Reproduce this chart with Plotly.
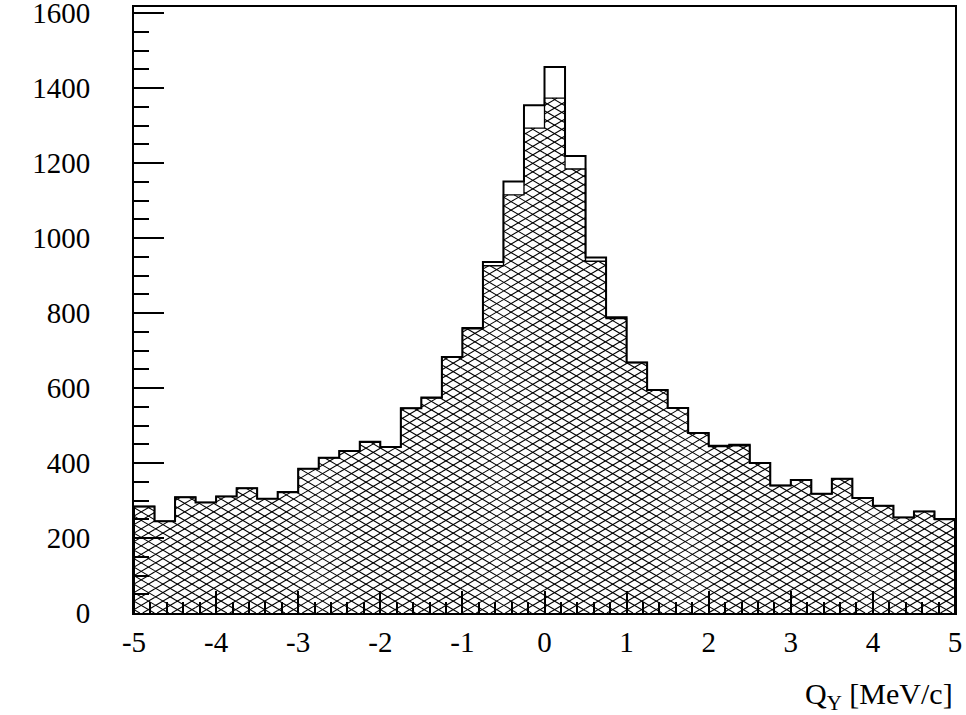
import numpy as np
import plotly.graph_objects as go

# ---- data ----
bin_edges_lo, bin_edges_hi, n_bins = -5.0, 5.0, 40
total_counts = [284, 245, 309, 295, 311, 333, 305, 323, 385, 414,
                432, 457, 443, 546, 575, 683, 760, 936, 1151, 1354,
                1456, 1219, 948, 789, 668, 595, 547, 480, 446, 449,
                400, 340, 355, 318, 358, 307, 286, 255, 271, 251]
hatched_counts = [284, 245, 309, 295, 311, 333, 305, 321, 385, 414,
                  432, 455, 443, 546, 573, 683, 758, 926, 1115, 1293,
                  1373, 1184, 938, 785, 668, 595, 547, 480, 444, 446,
                  400, 340, 355, 318, 358, 307, 286, 255, 271, 249]
x_tick_vals = [-5, -4, -3, -2, -1, 0, 1, 2, 3, 4, 5]
y_tick_vals = [0, 200, 400, 600, 800, 1000, 1200, 1400, 1600]
x_title = "Q<sub>Y</sub> [MeV/c]"

# ---- layout geometry ----
W_FIG, H_FIG = 966, 715
M_L, M_R, M_T, M_B = 134, 11, 7, 102
Y_MAX = 1616
X_RANGE = [bin_edges_lo, bin_edges_hi]
Y_RANGE = [0, Y_MAX]
PW = W_FIG - M_L - M_R
PH = H_FIG - M_T - M_B

edges = np.linspace(bin_edges_lo, bin_edges_hi, n_bins + 1)


def step_xy(vals):
    xs, ys = [edges[0]], [0]
    for i, v in enumerate(vals):
        xs += [edges[i], edges[i + 1]]
        ys += [v, v]
    xs.append(edges[-1])
    ys.append(0)
    return xs, ys


# hatch lines (cross-hatch) clipped to the hatched histogram region
sx = PW / (X_RANGE[1] - X_RANGE[0])   # px per x unit
sy = PH / (Y_RANGE[1] - Y_RANGE[0])   # px per y unit
slope = 0.586
spacing = 8.5
hx, hy = [], []
for s in (slope, -slope):
    cmin = -abs(s) * PW - spacing * 2
    cmax = PH + abs(s) * PW + spacing * 2
    for c in np.arange(cmin, cmax, spacing):
        for i, v in enumerate(hatched_counts):
            xa = (edges[i] - X_RANGE[0]) * sx
            xb = (edges[i + 1] - X_RANGE[0]) * sx
            hb = v * sy
            if s > 0:
                lo, hi = (0 - c) / s, (hb - c) / s
            else:
                lo, hi = (hb - c) / s, (0 - c) / s
            x0, x1 = max(lo, xa), min(hi, xb)
            if x1 > x0:
                hx += [X_RANGE[0] + x0 / sx, X_RANGE[0] + x1 / sx, None]
                hy += [(s * x0 + c) / sy, (s * x1 + c) / sy, None]

fig = go.Figure()
fig.add_trace(go.Scatter(x=hx, y=hy, mode="lines",
                         line=dict(color="black", width=1.1),
                         hoverinfo="skip", showlegend=False))
hx_s, hy_s = step_xy(hatched_counts)
fig.add_trace(go.Scatter(x=hx_s, y=hy_s, mode="lines",
                         line=dict(color="black", width=1.3),
                         showlegend=False))
tx_s, ty_s = step_xy(total_counts)
fig.add_trace(go.Scatter(x=tx_s, y=ty_s, mode="lines",
                         line=dict(color="black", width=2),
                         showlegend=False))

font = dict(family="Liberation Serif, Times New Roman, serif", size=29, color="black")

fig.update_layout(
    width=W_FIG, height=H_FIG,
    margin=dict(l=M_L, r=M_R, t=M_T, b=M_B, autoexpand=False),
    plot_bgcolor="white", paper_bgcolor="white",
    font=font,
    showlegend=False,
    xaxis=dict(range=X_RANGE, showgrid=False, zeroline=False, automargin=False,
               showline=True, linecolor="black", linewidth=2, mirror=True,
               ticks="inside", ticklen=22, tickwidth=1.5, tickcolor="black",
               tickvals=x_tick_vals, ticktext=[str(v) for v in x_tick_vals],
               minor=dict(dtick=0.2, tick0=-5, ticks="inside", ticklen=11,
                          tickwidth=1.5, tickcolor="black", showgrid=False),
               ticklabelstandoff=2, ticklabeloverflow="allow", tickfont=font),
    yaxis=dict(range=Y_RANGE, showgrid=False, zeroline=False, automargin=False,
               showline=True, linecolor="black", linewidth=2, mirror=True,
               ticks="inside", ticklen=30, tickwidth=1.5, tickcolor="black",
               tickvals=y_tick_vals, ticktext=[str(v) for v in y_tick_vals],
               minor=dict(dtick=50, tick0=0, ticks="inside", ticklen=15,
                          tickwidth=1.5, tickcolor="black", showgrid=False),
               ticklabelstandoff=36, ticklabeloverflow="allow", tickfont=font),
    annotations=[dict(text=x_title, xref="paper", yref="paper",
                      x=1, y=-0.102, xanchor="right", yanchor="top",
                      showarrow=False, font=dict(font, size=30))],
)

fig.write_html("out.html")
